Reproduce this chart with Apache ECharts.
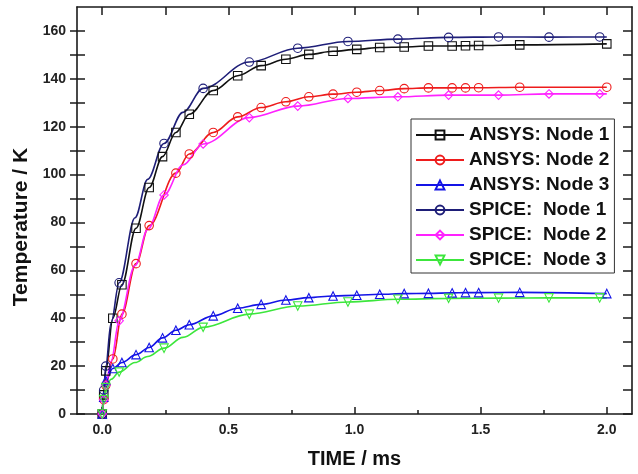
<!DOCTYPE html>
<html>
<head>
<meta charset="utf-8">
<title>Temperature vs time</title>
<script src="https://cdn.jsdelivr.net/npm/echarts@6/dist/echarts.min.js"></script>
<style>
  html, body { margin: 0; padding: 0; background: #fff; }
  #chart { width: 638px; height: 474px; }
</style>
</head>
<body>
<div id="chart"></div>
<script>
// ANSYS transient results (time in ms, temperature in K)
const ansysTime  = [0, 0.006, 0.014, 0.042, 0.078, 0.134, 0.186, 0.239, 0.292, 0.345, 0.44, 0.537, 0.63, 0.728, 0.819, 0.915, 1.009, 1.1, 1.197, 1.293, 1.387, 1.44, 1.492, 1.655, 2.0];
const ansysNode1 = [0, 8, 18, 40, 54, 77.6, 94.6, 107.5, 117.6, 125.2, 135.1, 141.3, 145.5, 148.2, 150.2, 151.5, 152.3, 153.1, 153.3, 153.7, 153.7, 153.8, 153.9, 154.2, 154.6];
const ansysNode2 = [0, 6, 12, 23, 41.7, 62.8, 78.7, null, 100.6, 108.6, 117.6, 124.1, 128, 130.4, 132.5, 133.6, 134.4, 135.1, 135.9, 136.2, 136.2, 136.2, 136.3, 136.5, 136.5];
const ansysNode3 = [0, 7, 14, 19, 21.5, 24.8, 27.8, 31.8, 35, 37.3, 41, 44.2, 45.8, 47.6, 48.6, 49.3, 49.6, 50, 50.3, 50.4, 50.6, 50.7, 50.7, 50.8, 50.3];

// SPICE thermal-circuit results; markers only where spiceMarker is 1
const spiceTime   = [0, 0.006, 0.014, 0.035, 0.067, 0.13, 0.18, 0.245, 0.32, 0.4, 0.583, 0.775, 0.974, 1.172, 1.373, 1.571, 1.771, 1.972, 2.0];
const spiceMarker = [1, 1, 1, 0, 1, 0, 0, 1, 0, 1, 1, 1, 1, 1, 1, 1, 1, 1, 0];
const spiceNode1  = [0, 10, 20, 38, 54.8, 82, 98, 113, 126, 136, 147, 152.8, 155.6, 156.6, 157.3, 157.5, 157.4, 157.5, 157.5];
const spiceNode2  = [0, 6, 12, 22, 38.9, 62, 77, 91.5, 104, 112.8, 123.8, 128.6, 131.8, 132.5, 133.2, 133.2, 133.7, 133.7, 133.7];
const spiceNode3  = [0, 6, 11, 14.5, 17.5, 21.5, 24, 27.5, 32, 36.2, 41.7, 45.1, 46.8, 47.9, 48.3, 48.4, 48.5, 48.5, 48.5];

const seriesNames = ['ANSYS: Node 1', 'ANSYS: Node 2', 'ANSYS: Node 3', 'SPICE:  Node 1', 'SPICE:  Node 2', 'SPICE:  Node 3'];

// axis ticks
const xMajorTicks = [0, 0.5, 1.0, 1.5, 2.0];
const xMinorTicks = [0.25, 0.75, 1.25, 1.75];
const xTopTicks   = [0, 0.25, 0.5, 0.75, 1.0, 1.25, 1.5, 1.75, 2.0];
const yMajorTicks = [0, 20, 40, 60, 80, 100, 120, 140, 160];
const yAllTicks   = [0, 10, 20, 30, 40, 50, 60, 70, 80, 90, 100, 110, 120, 130, 140, 150, 160];

const FONT = '"Liberation Sans", Arial, sans-serif';
const AXIS_COLOR = '#1a1a1a';

function pairs(times, values) {
  return times.map((t, i) => [t, values[i]]);
}
function spicePairs(values) {
  return spiceTime.map((t, i) => spiceMarker[i]
    ? { value: [t, values[i]] }
    : { value: [t, values[i]], symbol: 'none' });
}

function lineSeries(name, data, color, symbol, rotate) {
  return {
    name: name,
    type: 'line',
    xAxisIndex: 0,
    yAxisIndex: 0,
    data: data,
    smooth: 0.35,
    smoothMonotone: 'x',
    connectNulls: true,
    symbol: symbol,
    symbolSize: 8.5,
    symbolRotate: rotate || 0,
    showAllSymbol: true,
    lineStyle: { color: color, width: 1.6 },
    itemStyle: { color: 'transparent', borderColor: color, borderWidth: 1.1 },
    emphasis: { disabled: true }
  };
}

const xBase = { type: 'value', min: -0.1, max: 2.1, gridIndex: 0, splitLine: { show: false } };
const yBase = { type: 'value', min: 0, max: 170, gridIndex: 0, splitLine: { show: false } };
const lineOn  = { show: true, onZero: false, lineStyle: { color: AXIS_COLOR, width: 1.6 } };
const lineOff = { show: false, onZero: false };

const option = {
  animation: false,
  backgroundColor: '#fff',
  grid: { left: 77, right: 6, top: 7, bottom: 55, containLabel: false },
  xAxis: [
    Object.assign({}, xBase, {
      position: 'bottom',
      axisLine: lineOn,
      axisTick: { show: true, inside: true, length: 7, customValues: xMajorTicks, lineStyle: { color: AXIS_COLOR, width: 1.5 } },
      axisLabel: {
        show: true, customValues: xMajorTicks, margin: 9,
        formatter: v => Number(v).toFixed(1),
        fontFamily: FONT, fontWeight: 'bold', fontSize: 14, color: '#222'
      },
      name: 'TIME / ms', nameLocation: 'middle', nameGap: 35,
      nameTextStyle: { fontFamily: FONT, fontWeight: 'bold', fontSize: 20, color: '#111' }
    }),
    Object.assign({}, xBase, {
      position: 'bottom',
      axisLine: lineOff,
      axisTick: { show: true, inside: true, length: 4, customValues: xMinorTicks, lineStyle: { color: AXIS_COLOR, width: 1.5 } },
      axisLabel: { show: false }
    }),
    Object.assign({}, xBase, {
      position: 'top',
      axisLine: lineOn,
      axisTick: { show: true, inside: true, length: 8, customValues: xTopTicks, lineStyle: { color: AXIS_COLOR, width: 1.5 } },
      axisLabel: { show: false }
    })
  ],
  yAxis: [
    Object.assign({}, yBase, {
      position: 'left',
      axisLine: lineOn,
      axisTick: { show: true, inside: false, length: 7, customValues: yAllTicks, lineStyle: { color: AXIS_COLOR, width: 1.5 } },
      axisLabel: {
        show: true, customValues: yMajorTicks, margin: 11,
        fontFamily: FONT, fontWeight: 'bold', fontSize: 14, color: '#222'
      }
    }),
    Object.assign({}, yBase, {
      position: 'left',
      axisLine: lineOff,
      axisTick: { show: true, inside: true, length: 8, customValues: yAllTicks, lineStyle: { color: AXIS_COLOR, width: 1.5 } },
      axisLabel: { show: false }
    }),
    Object.assign({}, yBase, {
      position: 'right',
      axisLine: lineOn,
      axisTick: { show: true, inside: true, length: 9, customValues: yAllTicks, lineStyle: { color: AXIS_COLOR, width: 1.5 } },
      axisLabel: { show: false }
    })
  ],
  legend: {
    orient: 'vertical',
    left: 411,
    top: 119,
    padding: [6, 5, 3, 4],
    itemWidth: 48,
    itemHeight: 11,
    itemGap: 5,
    borderColor: '#333',
    borderWidth: 1,
    backgroundColor: '#fff',
    data: seriesNames,
    textStyle: { fontFamily: FONT, fontWeight: 'bold', fontSize: 19, lineHeight: 20, color: '#111' }
  },
  graphic: [{
    type: 'text',
    x: 21,
    y: 227,
    rotation: Math.PI / 2,
    style: {
      text: 'Temperature / K',
      font: 'bold 21px ' + FONT,
      fill: '#111',
      align: 'center',
      verticalAlign: 'middle'
    }
  }],
  series: [
    lineSeries(seriesNames[0], pairs(ansysTime, ansysNode1), '#111111', 'rect'),
    lineSeries(seriesNames[1], pairs(ansysTime, ansysNode2), '#ee1c1c', 'circle'),
    lineSeries(seriesNames[2], pairs(ansysTime, ansysNode3), '#1414e6', 'triangle'),
    lineSeries(seriesNames[3], spicePairs(spiceNode1), '#1e1e78', 'circle'),
    lineSeries(seriesNames[4], spicePairs(spiceNode2), '#ff22ff', 'diamond'),
    lineSeries(seriesNames[5], spicePairs(spiceNode3), '#3ce63c', 'triangle', 180)
  ]
};

const chart = echarts.init(document.getElementById('chart'), null, { renderer: 'canvas' });
chart.setOption(option);
</script>
</body>
</html>
